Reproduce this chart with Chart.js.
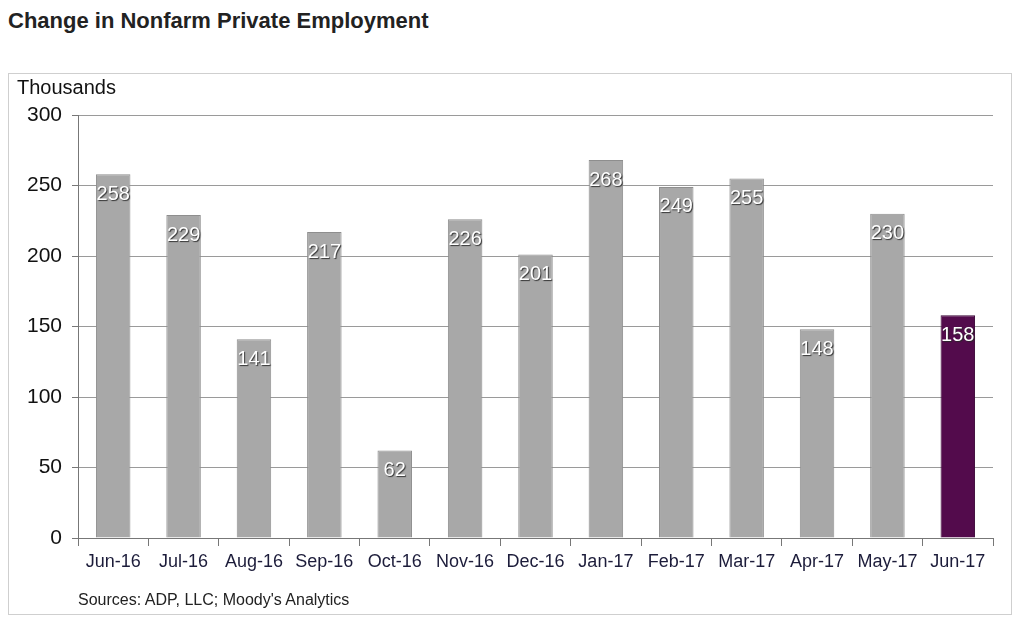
<!DOCTYPE html>
<html>
<head>
<meta charset="utf-8">
<script src="https://cdn.jsdelivr.net/npm/chart.js@4.4.0/dist/chart.umd.min.js"></script>
<style>
  body { margin: 0; background: #fff; font-family: "Liberation Sans", Arial, sans-serif; }
  #title { position: absolute; left: 8px; top: 8px; font-size: 22px; font-weight: bold; color: #222; }
  #box { position: absolute; left: 8px; top: 73px; width: 1002px; height: 540px; border: 1px solid #cfcfcf; }
  #units { position: absolute; left: 17px; top: 76px; font-size: 20px; color: #111; }
  #src { position: absolute; left: 78px; top: 591px; font-size: 16px; color: #222; }
  #wrap { position: absolute; left: 8px; top: 73px; width: 1004px; height: 542px; }
</style>
</head>
<body>
<div id="title">Change in Nonfarm Private Employment</div>
<div id="box"></div>
<div id="wrap"><canvas id="chart"></canvas></div>
<div id="units">Thousands</div>
<div id="src">Sources: ADP, LLC; Moody's Analytics</div>
<script>
var months = ['Jun-16', 'Jul-16', 'Aug-16', 'Sep-16', 'Oct-16', 'Nov-16', 'Dec-16',
              'Jan-17', 'Feb-17', 'Mar-17', 'Apr-17', 'May-17', 'Jun-17'];
var jobs = [258, 229, 141, 217, 62, 226, 201, 268, 249, 255, 148, 230, 158];
var yTicks = [0, 50, 100, 150, 200, 250, 300];

var barColors = [];
var edgeColors = [];
for (var i = 0; i < jobs.length; i++) {
	if (i == jobs.length - 1) {
		barColors.push('#530b4c');
		edgeColors.push('#3a0636');
	} else {
		barColors.push('#a8a8a8');
		edgeColors.push('#8e8e8e');
	}
}

// white numbers just under the top of each bar
var barLabels = {
	id: 'barLabels',
	afterDatasetsDraw: function(chart) {
		var ctx = chart.ctx;
		var meta = chart.getDatasetMeta(0);
		ctx.save();
		ctx.font = '20px "Liberation Sans", Arial, sans-serif';
		ctx.textAlign = 'center';
		ctx.textBaseline = 'middle';
		ctx.shadowColor = 'rgba(40,40,40,0.9)';
		ctx.shadowOffsetX = 1;
		ctx.shadowOffsetY = 1;
		ctx.shadowBlur = 1;
		ctx.fillStyle = '#fff';
		meta.data.forEach(function(bar, i) {
			ctx.fillText(jobs[i], bar.x, bar.y + 20);
		});
		ctx.restore();
	}
};

var ctx = document.getElementById('chart').getContext('2d');
var chart = new Chart(ctx, {
	type: 'bar',
	data: {
		labels: months,
		datasets: [{
			data: jobs,
			backgroundColor: barColors,
			borderColor: edgeColors,
			borderWidth: 1,
			barPercentage: 0.49,
			categoryPercentage: 1
		}]
	},
	options: {
		responsive: true,
		maintainAspectRatio: false,
		animation: false,
		layout: { padding: { top: 42, right: 19, left: 0, bottom: 0 } },
		plugins: { legend: { display: false }, tooltip: { enabled: false } },
		scales: {
			x: {
				offset: true,
				afterFit: function(s) { s.height = 77; },
				grid: {
					offset: true,
					color: function(c) { return c.index == months.length ? '#b0b0b0' : 'transparent'; },
					tickColor: '#777',
					tickLength: 8
				},
				border: { color: '#777', width: 1 },
				ticks: {
					padding: 5,
					color: '#1c1c3a',
					font: { family: '"Liberation Sans", Arial, sans-serif', size: 18 },
					maxRotation: 0
				}
			},
			y: {
				min: 0,
				max: 300,
				afterFit: function(s) { s.width = 70; },
				afterBuildTicks: function(s) {
					s.ticks = yTicks.map(function(v) { return { value: v }; });
				},
				grid: { color: '#9a9a9a', tickColor: '#777', tickLength: 6 },
				border: { color: '#777', width: 1 },
				ticks: {
					padding: 10,
					color: '#111',
					font: { family: '"Liberation Sans", Arial, sans-serif', size: 21 }
				}
			}
		}
	},
	plugins: [barLabels]
});
</script>
</body>
</html>
